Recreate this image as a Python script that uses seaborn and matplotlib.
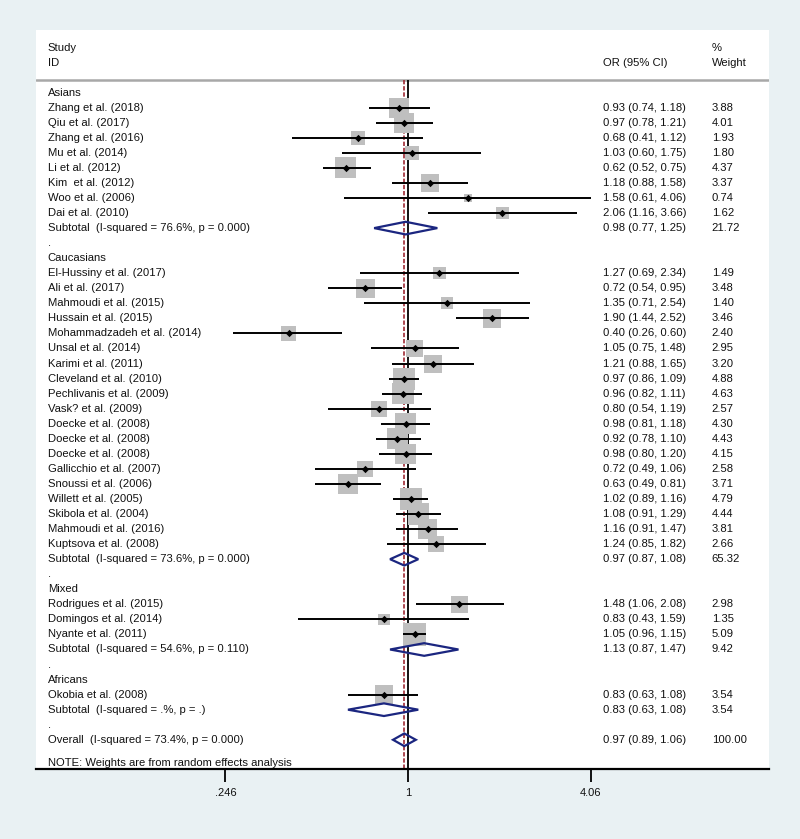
import numpy as np
import pandas as pd
import matplotlib
matplotlib.use("Agg")
import matplotlib.pyplot as plt
import seaborn as sns
from matplotlib.patches import Polygon
from matplotlib.transforms import blended_transform_factory

sns.set_theme(style="white")
plt.rcParams['font.family'] = ['Liberation Sans', 'DejaVu Sans']

# --- datos ---
groups = ["Asians", "Caucasians", "Mixed", "Africans"]

studies = [
    "Zhang et al. (2018)", "Qiu et al. (2017)", "Zhang et al. (2016)", "Mu et al. (2014)",
    "Li et al. (2012)", "Kim  et al. (2012)", "Woo et al. (2006)", "Dai et al. (2010)",
    "El-Hussiny et al. (2017)", "Ali et al. (2017)", "Mahmoudi et al. (2015)", "Hussain et al. (2015)",
    "Mohammadzadeh et al. (2014)", "Unsal et al. (2014)", "Karimi et al. (2011)", "Cleveland et al. (2010)",
    "Pechlivanis et al. (2009)", "Vask? et al. (2009)", "Doecke et al. (2008)", "Doecke et al. (2008)",
    "Doecke et al. (2008)", "Gallicchio et al. (2007)", "Snoussi et al. (2006)", "Willett et al. (2005)",
    "Skibola et al. (2004)", "Mahmoudi et al. (2016)", "Kuptsova et al. (2008)",
    "Rodrigues et al. (2015)", "Domingos et al. (2014)", "Nyante et al. (2011)",
    "Okobia et al. (2008)",
]
study_group = ["Asians"] * 8 + ["Caucasians"] * 19 + ["Mixed"] * 3 + ["Africans"] * 1

odds = [0.93, 0.97, 0.68, 1.03, 0.62, 1.18, 1.58, 2.06,
        1.27, 0.72, 1.35, 1.90, 0.40, 1.05, 1.21, 0.97, 0.96, 0.80, 0.98, 0.92, 0.98,
        0.72, 0.63, 1.02, 1.08, 1.16, 1.24,
        1.48, 0.83, 1.05,
        0.83]
ci_low = [0.74, 0.78, 0.41, 0.60, 0.52, 0.88, 0.61, 1.16,
          0.69, 0.54, 0.71, 1.44, 0.26, 0.75, 0.88, 0.86, 0.82, 0.54, 0.81, 0.78, 0.80,
          0.49, 0.49, 0.89, 0.91, 0.91, 0.85,
          1.06, 0.43, 0.96,
          0.63]
ci_high = [1.18, 1.21, 1.12, 1.75, 0.75, 1.58, 4.06, 3.66,
           2.34, 0.95, 2.54, 2.52, 0.60, 1.48, 1.65, 1.09, 1.11, 1.19, 1.18, 1.10, 1.20,
           1.06, 0.81, 1.16, 1.29, 1.47, 1.82,
           2.08, 1.59, 1.15,
           1.08]
weights = [3.88, 4.01, 1.93, 1.80, 4.37, 3.37, 0.74, 1.62,
           1.49, 3.48, 1.40, 3.46, 2.40, 2.95, 3.20, 4.88, 4.63, 2.57, 4.30, 4.43, 4.15,
           2.58, 3.71, 4.79, 4.44, 3.81, 2.66,
           2.98, 1.35, 5.09,
           3.54]

sub_i2 = ["76.6%", "73.6%", "54.6%", ".%"]
sub_p = ["0.000", "0.000", "0.110", "."]
sub_or = [0.98, 0.97, 1.13, 0.83]
sub_low = [0.77, 0.87, 0.87, 0.63]
sub_high = [1.25, 1.08, 1.47, 1.08]
sub_weight = [21.72, 65.32, 9.42, 3.54]

overall_or, overall_low, overall_high = 0.97, 0.89, 1.06
overall_weight = 100.00
overall_i2, overall_p = "73.4%", "0.000"

ticks = [0.246, 1, 4.06]
tick_labels = [".246", "1", "4.06"]

# --- filas del forest plot ---
df = pd.DataFrame({"study": studies, "group": study_group, "odds": odds,
                   "low": ci_low, "high": ci_high, "weight": weights})
df["row"] = 0.0
text_rows = []      # (fila, etiqueta, OR, peso)
diamonds = []       # (fila, est, lo, hi)
r = 0
for gi, g in enumerate(groups):
    text_rows.append((r, g, "", ""))
    r += 1
    for idx in df.index[df["group"] == g]:
        df.loc[idx, "row"] = r
        text_rows.append((r, df.loc[idx, "study"],
                          f"{odds[idx]:.2f} ({ci_low[idx]:.2f}, {ci_high[idx]:.2f})",
                          f"{weights[idx]:.2f}"))
        r += 1
    text_rows.append((r, f"Subtotal  (I-squared = {sub_i2[gi]}, p = {sub_p[gi]})",
                      f"{sub_or[gi]:.2f} ({sub_low[gi]:.2f}, {sub_high[gi]:.2f})",
                      f"{sub_weight[gi]:.2f}"))
    diamonds.append((r, sub_or[gi], sub_low[gi], sub_high[gi]))
    r += 1
    text_rows.append((r, ".", "", ""))
    r += 1
text_rows.append((r, f"Overall  (I-squared = {overall_i2}, p = {overall_p})",
                  f"{overall_or:.2f} ({overall_low:.2f}, {overall_high:.2f})",
                  f"{overall_weight:.2f}"))
diamonds.append((r, overall_or, overall_low, overall_high))

# --- figura ---
bg = "#e9f1f3"
fig = plt.figure(figsize=(8, 8.39), dpi=100, facecolor=bg)
ax = fig.add_axes([0.045, 0.0838, 0.91625, 0.8805])
ax.set_facecolor("white")
ax.set_xscale("log")
ax.set_xlim(0.0576, 15.9)
y_bottom, y_top = 44.92, -4.166
ax.set_ylim(y_bottom, y_top)

sep = -0.84
ax.axhline(sep, color="#a8a8a8", lw=1.8, zorder=1)
ax.vlines(1, sep, y_bottom, color="black", lw=1.3, zorder=1)
ax.vlines(overall_or, sep, y_bottom, color="#a02a35", lw=1.2,
          linestyles=(0, (2.6, 1.1)), zorder=1)

sns.scatterplot(data=df, x="odds", y="row", size="weight", sizes=(0, 520),
                size_norm=(0, 10), marker="s", color="#bfbfbf", linewidth=0,
                legend=False, ax=ax, zorder=2)
ax.hlines(df["row"], df["low"], df["high"], color="black", lw=1.4, zorder=3)
sns.scatterplot(data=df, x="odds", y="row", marker="D", s=14, color="black",
                linewidth=0, legend=False, ax=ax, zorder=4)

for row, est, lo, hi in diamonds:
    h = 0.42
    poly = Polygon([(lo, row), (est, row - h), (hi, row), (est, row + h)],
                   closed=True, fill=False, edgecolor="#1b2680", lw=1.6, zorder=5)
    ax.add_patch(poly)

trans = blended_transform_factory(ax.transAxes, ax.transData)
fs = 8.1
tc = "#111111"
ax.text(0.016, -3.0, "Study", transform=trans, fontsize=fs, va="center", color=tc)
ax.text(0.016, -2.0, "ID", transform=trans, fontsize=fs, va="center", color=tc)
ax.text(0.773, -2.0, "OR (95% CI)", transform=trans, fontsize=fs, va="center", color=tc)
ax.text(0.922, -3.0, "%", transform=trans, fontsize=fs, va="center", color=tc)
ax.text(0.922, -2.0, "Weight", transform=trans, fontsize=fs, va="center", color=tc)
for row, lab, ortxt, wtxt in text_rows:
    ax.text(0.016, row, lab, transform=trans, fontsize=fs, va="center", color=tc)
    ax.text(0.773, row, ortxt, transform=trans, fontsize=fs, va="center", color=tc)
    ax.text(0.922, row, wtxt, transform=trans, fontsize=fs, va="center", color=tc)
ax.text(0.016, 44.55, "NOTE: Weights are from random effects analysis", transform=trans,
        fontsize=fs, va="center", color=tc)

ax.set_xticks(ticks)
ax.set_xticklabels(tick_labels)
ax.minorticks_off()
ax.set_yticks([])
ax.tick_params(axis="x", direction="out", length=9.4, width=1.3, pad=4.5,
               labelsize=8, labelcolor=tc, bottom=True, color="black")
for s in ["top", "left", "right"]:
    ax.spines[s].set_visible(False)
ax.spines["bottom"].set_color("black")
ax.spines["bottom"].set_linewidth(1.6)
ax.set_xlabel("")
ax.set_ylabel("")

fig.savefig("out.png", dpi=100, facecolor=bg)
